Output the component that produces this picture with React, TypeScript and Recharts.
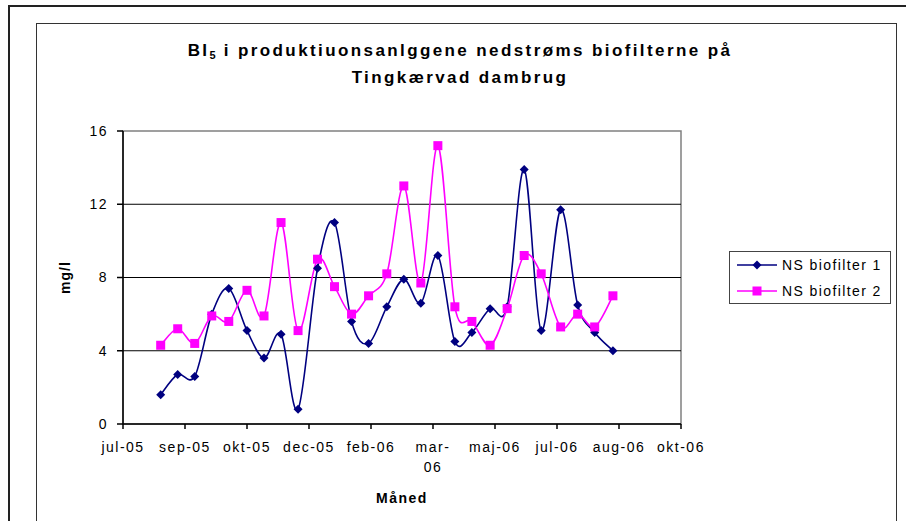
import { LineChart, Line, XAxis, YAxis, ReferenceLine, ReferenceArea } from 'recharts'

// days since start of axis (jul-05), roughly every two weeks
const sampleDays = [31, 45, 59, 73, 87, 102, 116, 130, 144, 160, 174, 188, 202, 217, 231, 245, 259, 273, 287, 302, 316, 330, 344, 360, 374, 388, 403]
const biofilter1 = [1.6, 2.7, 2.6, 6.0, 7.4, 5.1, 3.6, 4.9, 0.8, 8.5, 11.0, 5.6, 4.4, 6.4, 7.9, 6.6, 9.2, 4.5, 5.0, 6.3, 6.4, 13.9, 5.1, 11.7, 6.5, 5.0, 4.0]
const biofilter2 = [4.3, 5.2, 4.4, 5.9, 5.6, 7.3, 5.9, 11.0, 5.1, 9.0, 7.5, 6.0, 7.0, 8.2, 13.0, 7.7, 15.2, 6.4, 5.6, 4.3, 6.3, 9.2, 8.2, 5.3, 6.0, 5.3, 7.0]

const tickDays = [0, 51, 102, 153, 204, 255, 306, 357, 408, 459]
const tickLabels = ['jul-05', 'sep-05', 'okt-05', 'dec-05', 'feb-06', 'mar-\n06', 'maj-06', 'jul-06', 'aug-06', 'okt-06']
const yTicks = [0, 4, 8, 12, 16]
const gridValues = [4, 8, 12]

const seriesNames = ['NS biofilter 1', 'NS biofilter 2']
const seriesColors = ['#000080', '#FF00FF']

const data = sampleDays.map((day, i) => ({ day, bio1: biofilter1[i], bio2: biofilter2[i] }))

const font = '"Liberation Sans", Arial, sans-serif'

// Excel style smoothed line (catmull-rom bezier)
const excelCurve = (context: any) => {
  let pts: [number, number][] = []
  return {
    areaStart() {},
    areaEnd() {},
    lineStart() { pts = [] },
    point(x: number, y: number) { pts.push([+x, +y]) },
    lineEnd() {
      if (!pts.length) return
      context.moveTo(pts[0][0], pts[0][1])
      for (let i = 0; i < pts.length - 1; i++) {
        const p0 = pts[i - 1] || pts[i]
        const p1 = pts[i]
        const p2 = pts[i + 1]
        const p3 = pts[i + 2] || p2
        context.bezierCurveTo(
          p1[0] + (p2[0] - p0[0]) / 6, p1[1] + (p2[1] - p0[1]) / 6,
          p2[0] - (p3[0] - p1[0]) / 6, p2[1] - (p3[1] - p1[1]) / 6,
          p2[0], p2[1],
        )
      }
    },
  }
}

const Diamond = ({ cx, cy }: any) => (
  <polygon points={`${cx},${cy - 4.5} ${cx + 4.5},${cy} ${cx},${cy + 4.5} ${cx - 4.5},${cy}`} fill='#000080' />
)

const Square = ({ cx, cy }: any) => (
  <rect x={cx - 4.5} y={cy - 4.5} width={9} height={9} fill='#FF00FF' />
)

const XTick = ({ x, y, payload }: any) => {
  const idx = tickDays.indexOf(payload.value)
  const lines = (tickLabels[idx] ?? '').split('\n')
  return (
    <text x={x} y={y} textAnchor='middle' fontSize={14} fontFamily={font} letterSpacing={1.5} fill='#000'>
      {lines.map((l, i) => (
        <tspan key={i} x={x} dy={i === 0 ? 21 : 20}>{l}</tspan>
      ))}
    </text>
  )
}

const YTitle = ({ viewBox }: any) => {
  const x = viewBox.x + 7
  const y = viewBox.y + viewBox.height / 2
  return (
    <text x={x} y={y} transform={`rotate(-90 ${x} ${y})`} textAnchor='middle' fontFamily={font} fontWeight='bold' fontSize={14} letterSpacing={1} fill='#000'>
      mg/l
    </text>
  )
}

const XTitle = ({ viewBox }: any) => (
  <text x={viewBox.x + viewBox.width / 2} y={viewBox.y + 79} textAnchor='middle' fontFamily={font} fontWeight='bold' fontSize={14} letterSpacing={1.5} fill='#000'>
    Måned
  </text>
)

const LegendBox = () => (
  <div style={{ position: 'absolute', left: 729, top: 251, border: '1px solid #444', width: 160, height: 51, background: '#fff', fontFamily: font, fontSize: 14, letterSpacing: 1.4 }}>
    {seriesNames.map((name, i) => (
      <div key={i} style={{ display: 'flex', alignItems: 'center', height: 26 }}>
        <svg width={46} height={12} style={{ marginLeft: 5 }}>
          <line x1={2} y1={6} x2={42} y2={6} stroke={seriesColors[i]} strokeWidth={1.5} />
          {i === 0
            ? <polygon points='22,1.5 26.5,6 22,10.5 17.5,6' fill={seriesColors[i]} />
            : <rect x={17.5} y={1.5} width={9} height={9} fill={seriesColors[i]} />}
        </svg>
        <span style={{ marginLeft: 1 }}>{name}</span>
      </div>
    ))}
  </div>
)

export default function App() {
  return (
    <div style={{ position: 'absolute', left: 0, top: 0, width: 906, height: 521, overflow: 'hidden', background: '#fff' }}>
      <div style={{ position: 'absolute', left: 8, top: 5, width: 898, height: 2, background: '#222' }} />
      <div style={{ position: 'absolute', left: 8, top: 5, width: 2, height: 516, background: '#222' }} />
      <div style={{ position: 'absolute', left: 36, top: 23, width: 859, height: 520, border: '1.5px solid #333' }} />
      <div style={{ position: 'absolute', left: 30, top: 37, width: 860, textAlign: 'center', fontFamily: font, fontWeight: 'bold', fontSize: 17, letterSpacing: 2.4 }}>
        <div style={{ height: 27, lineHeight: '27px' }}>
          BI<span style={{ fontSize: 11, position: 'relative', top: 3, letterSpacing: 1 }}>5</span> i produktiuonsanlggene nedstrøms biofilterne på
        </div>
        <div style={{ height: 27, lineHeight: '27px' }}>Tingkærvad dambrug</div>
      </div>
      <div style={{ position: 'absolute', left: 0, top: 0 }}>
        <LineChart width={906} height={521} data={data} margin={{ top: 131, left: 63, right: 225, bottom: 67 }}>
          <ReferenceArea x1={0} x2={459} y1={0} y2={16} fill='none' stroke='#808080' strokeWidth={1.5} ifOverflow='visible' />
          {gridValues.map(v => (
            <ReferenceLine key={v} y={v} stroke='#000' strokeWidth={1} />
          ))}
          <XAxis
            dataKey='day'
            type='number'
            domain={[0, 459]}
            ticks={tickDays}
            interval={0}
            height={30}
            tickSize={5}
            tick={<XTick />}
            axisLine={{ stroke: '#000', strokeWidth: 1.5 }}
            tickLine={{ stroke: '#000', strokeWidth: 1.5 }}
            label={<XTitle />}
          />
          <YAxis
            type='number'
            domain={[0, 16]}
            ticks={yTicks}
            width={60}
            tickSize={6}
            tickMargin={9}
            tick={{ fontFamily: font, fontSize: 14, letterSpacing: 1.5, fill: '#000' }}
            axisLine={{ stroke: '#000', strokeWidth: 1.5 }}
            tickLine={{ stroke: '#000', strokeWidth: 1.5 }}
            label={<YTitle />}
          />
          <Line dataKey='bio1' name={seriesNames[0]} type={excelCurve as any} stroke={seriesColors[0]} strokeWidth={1.6} dot={<Diamond />} activeDot={false} isAnimationActive={false} />
          <Line dataKey='bio2' name={seriesNames[1]} type={excelCurve as any} stroke={seriesColors[1]} strokeWidth={1.6} dot={<Square />} activeDot={false} isAnimationActive={false} />
        </LineChart>
      </div>
      <LegendBox />
    </div>
  )
}
